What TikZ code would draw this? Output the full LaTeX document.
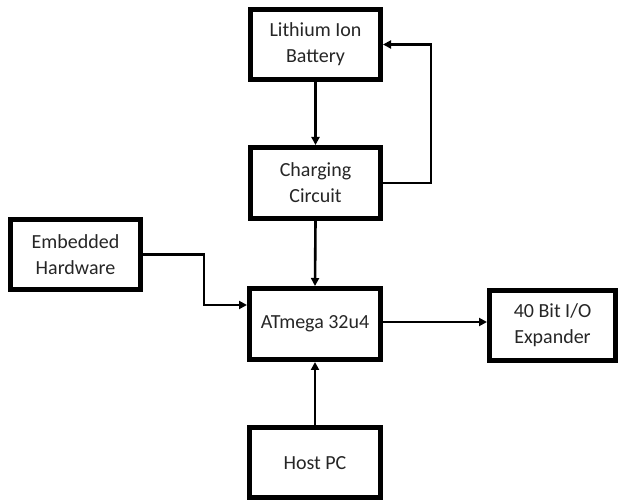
\documentclass[tikz,border=0pt]{standalone}
\usepackage{fontspec}
\setmainfont{Carlito}
\usetikzlibrary{arrows.meta}
\begin{document}
\begin{tikzpicture}[x=1pt,y=1pt,
  blk/.style={draw=black, line width=5pt, fill=white, align=center,
    minimum width=130pt, minimum height=70pt, inner sep=0pt,
    font=\fontsize{20}{26}\selectfont, text=black!85},
  conn/.style={line width=2.6pt, -{Triangle[length=8pt,width=8pt]}}]
\useasboundingbox (0,0) rectangle (618,500);
\node[blk] (batt) at (315.5,455.5) {Lithium Ion\\Battery};
\node[blk, minimum height=71pt] (charge) at (315.5,317) {Charging\\Circuit};
\node[blk] (emb) at (75.5,245.5) {Embedded\\Hardware};
\node[blk, minimum width=131pt, minimum height=71pt] (atm) at (315,176) {ATmega 32u4};
\node[blk, minimum width=126pt] (exp) at (552.5,174.5) {40 Bit I/O\\Expander};
\node[blk, minimum width=131pt] (host) at (315,37) {Host PC};
\coordinate (fb) at (431,455.5);
\coordinate (ej) at (204,195);
\draw[conn] (batt.south) -- (charge.north);
\draw[conn] (charge.east) -| (fb) -- (batt.east);
\draw[conn] (charge.south) -- (atm.north);
\draw[conn] (emb.east) -| (ej) -- (ej -| atm.west);
\draw[conn] ([yshift=2pt]atm.east) -- ([yshift=2pt]atm.east -| exp.west);
\draw[conn] (host.north) -- (atm.south);
\end{tikzpicture}
\end{document}
